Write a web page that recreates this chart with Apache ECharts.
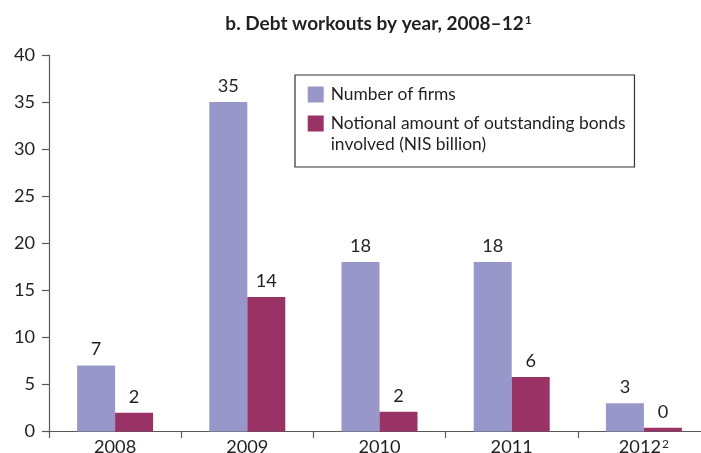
<!DOCTYPE html>
<html>
<head>
<meta charset="utf-8">
<script src="https://cdn.jsdelivr.net/npm/echarts@6/dist/echarts.min.js"></script>
<style>
  html, body { margin: 0; padding: 0; background: #fff; }
  #chart { width: 701px; height: 453px; }
</style>
</head>
<body>
<div id="chart"></div>
<script>
// Debt workouts per year: firm counts and bond amounts involved
const years = ['2008', '2009', '2010', '2011', '2012'];
const yearNotes = ['', '', '', '', '2'];
const firms = [7, 35, 18, 18, 3];
const bondsNIS = [2.0, 14.3, 2.1, 5.8, 0.4];
const yTicks = [0, 5, 10, 15, 20, 25, 30, 35, 40];
const seriesNames = [
  'Number of firms',
  'Notional amount of outstanding bonds\ninvolved (NIS billion)'
];

const FONT = 'Lato';
const TEXT = '#231f20';
const AXIS = '#595959';
const COLORS = ['#9797c9', '#993366'];
const NUM_SIZE = 18.2;

const chart = echarts.init(document.getElementById('chart'));

const valueLabel = {
  show: true,
  position: 'top',
  distance: 7,
  fontFamily: FONT,
  fontSize: NUM_SIZE,
  color: TEXT,
  formatter: p => String(Math.round(p.value))
};

chart.setOption({
  animation: false,
  backgroundColor: '#fff',
  title: {
    text: '{m|b. Debt workouts by year, 2008–12}{s|1}',
    left: 378.5,
    textAlign: 'center',
    top: 14,
    padding: 0,
    textStyle: {
      rich: {
        m: { fontFamily: FONT, fontWeight: 'bold', fontSize: 19, color: TEXT },
        s: { fontFamily: FONT, fontWeight: 'bold', fontSize: 12, color: TEXT, verticalAlign: 'top', padding: [0, 0, 7, 1] }
      }
    }
  },
  legend: {
    orient: 'vertical',
    left: 295,
    top: 75,
    padding: [9, 9, 12, 12.7],
    borderColor: '#333',
    borderWidth: 1.2,
    icon: 'rect',
    itemWidth: 16,
    itemHeight: 16,
    itemGap: -13,
    // a blank leading line keeps the first text line level with its swatch
    formatter: name => name.indexOf('\n') >= 0 ? ' \n' + name : name,
    textStyle: { fontFamily: FONT, fontSize: 17.4, color: TEXT, lineHeight: 21, padding: [0, 0, 0, 2] },
    data: seriesNames
  },
  grid: {
    left: 49, top: 55, width: 661, bottom: 21.5,
    containLabel: false,
    outerBoundsMode: 'none'
  },
  xAxis: {
    type: 'category',
    data: years,
    boundaryGap: true,
    axisLine: { lineStyle: { color: AXIS, width: 1.2 } },
    axisTick: { show: true, length: 6.5, alignWithLabel: false, lineStyle: { color: AXIS, width: 1.2 } },
    axisLabel: {
      margin: 6.5,
      formatter: (v, i) => yearNotes[i] ? '{y|' + v + '}{n|' + yearNotes[i] + '}' : '{y|' + v + '}',
      rich: {
        y: { fontFamily: FONT, fontSize: NUM_SIZE, color: TEXT },
        n: { fontFamily: FONT, fontSize: 12, color: TEXT, verticalAlign: 'top', padding: [0, 0, 7, 1] }
      }
    }
  },
  yAxis: {
    type: 'value',
    min: yTicks[0],
    max: yTicks[yTicks.length - 1],
    interval: yTicks[1] - yTicks[0],
    axisLine: { show: true, lineStyle: { color: AXIS, width: 1.2 } },
    axisTick: { show: true, length: 7, lineStyle: { color: AXIS, width: 1.2 } },
    splitLine: { show: false },
    axisLabel: { margin: 14, fontFamily: FONT, fontSize: NUM_SIZE, color: TEXT }
  },
  series: [
    {
      name: seriesNames[0],
      type: 'bar',
      data: firms,
      barWidth: 38,
      barGap: '0%',
      itemStyle: { color: COLORS[0] },
      label: valueLabel
    },
    {
      name: seriesNames[1],
      type: 'bar',
      data: bondsNIS,
      barWidth: 38,
      barGap: '0%',
      itemStyle: { color: COLORS[1] },
      label: valueLabel
    }
  ]
});
</script>
</body>
</html>
